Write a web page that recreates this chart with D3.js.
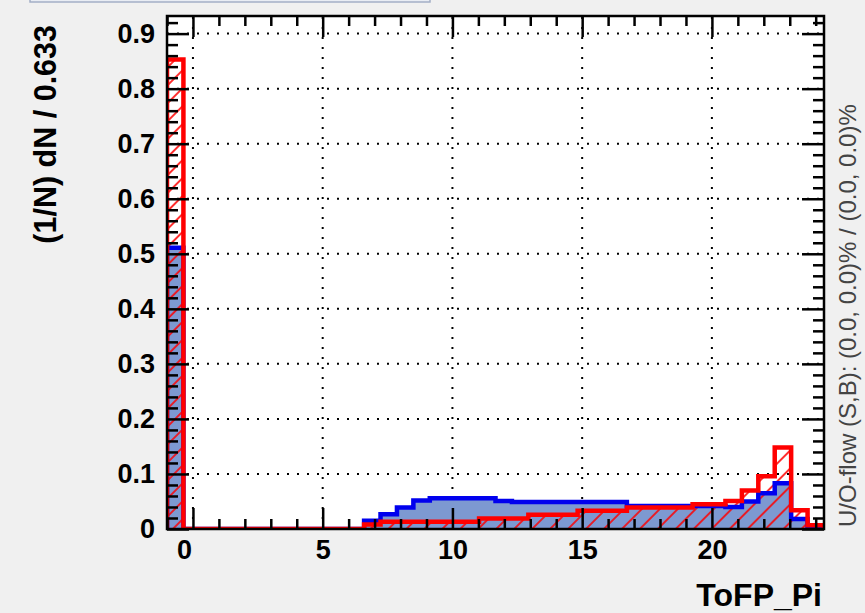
<!DOCTYPE html>
<html><head><meta charset="utf-8">
<script src="https://cdn.jsdelivr.net/npm/d3@7/dist/d3.min.js"></script>
<style>
body{margin:0;background:#f0f0f0;}
svg{display:block;}
text{font-family:"Liberation Sans",Arial,Helvetica,sans-serif;}
</style>
</head><body>
<svg id="c" width="865" height="613"></svg>
<script>
// ---- data ----
const binWidth = 0.633;
const xMin = -1;
const nBins = 40;
// Signal (blue, filled)
const signal = [0.511,0,0,0,0,0,0,0,0,0,0,0,0.015,0.027,0.039,0.052,0.056,0.056,0.056,0.056,
                0.051,0.049,0.049,0.049,0.049,0.049,0.049,0.049,0.042,0.042,0.042,0.042,0.042,0.042,0.040,0.050,0.065,0.083,0.018,0.004];
// Background (red, hatched)
const background = [0.853,0,0,0,0,0,0,0,0,0,0,0,0.008,0.013,0.013,0.013,0.013,0.013,0.013,0.019,
                    0.019,0.019,0.026,0.026,0.026,0.033,0.033,0.033,0.039,0.039,0.039,0.039,0.045,0.045,0.051,0.070,0.096,0.148,0.034,0.007];
const xMajorTicks = [0,5,10,15,20];
const xTickLabels = ["0","5","10","15","20"];
const xMinorTicks = [-1,1,2,3,4,6,7,8,9,11,12,13,14,16,17,18,19,21,22,23,24];
const yMajorTicks = [0,0.1,0.2,0.3,0.4,0.5,0.6,0.7,0.8,0.9];
const yTickLabels = ["0","0.1","0.2","0.3","0.4","0.5","0.6","0.7","0.8","0.9"];
const yMinorTicks = [0.02,0.04,0.06,0.08,0.12,0.14,0.16,0.18,0.22,0.24,0.26,0.28,0.32,0.34,0.36,0.38,
                     0.42,0.44,0.46,0.48,0.52,0.54,0.56,0.58,0.62,0.64,0.66,0.68,0.72,0.74,0.76,0.78,
                     0.82,0.84,0.86,0.88,0.92];
const yTitle = "(1/N) dN / 0.633";
const xTitle = "ToFP_Pi";
const sideText = "U/O-flow (S,B): (0.0, 0.0)% / (0.0, 0.0)%";

// ---- layout ----
const W = 865, H = 613;
const L = 167, R = 824, T = 16, B = 529;
const svg = d3.select("#c");
const x = d3.scaleLinear().domain([xMin, xMin + nBins*binWidth]).range([L, R]);
const y = d3.scaleLinear().domain([0, 0.932]).range([B, T]);

// partial header box at top
svg.append("rect").attr("x",30).attr("y",-6).attr("width",400).attr("height",8)
  .attr("fill","#e9edf4").attr("stroke","#a3aec6").attr("stroke-width",1.5);

// plot area
svg.append("rect").attr("x",L).attr("y",T).attr("width",R-L).attr("height",B-T).attr("fill","#fff");

const defs = svg.append("defs");
defs.append("clipPath").attr("id","clip").append("rect")
  .attr("x",L).attr("y",T).attr("width",R-L).attr("height",B-T);
const pat = defs.append("pattern").attr("id","hatch").attr("patternUnits","userSpaceOnUse")
  .attr("width",12.7).attr("height",12.7).attr("patternTransform","rotate(45)");
pat.append("line").attr("x1",1).attr("y1",0).attr("x2",1).attr("y2",12.7)
  .attr("stroke","#ff0000").attr("stroke-width",1.6);

// grid
const grid = svg.append("g").attr("stroke","#000").attr("stroke-width",2).attr("stroke-dasharray","2,8");
grid.selectAll("line.v").data(xMajorTicks).join("line").attr("class","v")
  .attr("x1",d=>x(d)).attr("x2",d=>x(d)).attr("y1",B).attr("y2",T);
grid.selectAll("line.h").data(yMajorTicks.filter(d=>d>0)).join("line").attr("class","h")
  .attr("x1",L).attr("x2",R).attr("y1",d=>y(d)).attr("y2",d=>y(d));

// histograms
function stepPoints(vals){
  const pts = [[xMin, 0]];
  vals.forEach((v,i)=>{ pts.push([xMin+i*binWidth, v]); pts.push([xMin+(i+1)*binWidth, v]); });
  pts.push([xMin+vals.length*binWidth, 0]);
  return pts;
}
const line = d3.line().x(d=>x(d[0])).y(d=>y(d[1]));
const area = d3.area().x(d=>x(d[0])).y0(y(0)).y1(d=>y(d[1]));
const hg = svg.append("g").attr("clip-path","url(#clip)");
const sp = stepPoints(signal), bp = stepPoints(background);
hg.append("path").attr("d",area(sp)).attr("fill","#7d99d1");
hg.append("path").attr("d",area(bp)).attr("fill","url(#hatch)");
hg.append("path").attr("d",line(sp)).attr("fill","none").attr("stroke","#0000ee").attr("stroke-width",4.5);
hg.append("path").attr("d",line(bp)).attr("fill","none").attr("stroke","#ff0000").attr("stroke-width",4.5);

// axes ticks (inside)
function ticksOnly(axis, tv, size){ return axis.tickValues(tv).tickSize(size).tickFormat(""); }
const tickStyle = g => { g.select(".domain").remove(); g.selectAll("line").attr("stroke","#000").attr("stroke-width",2.5); };
svg.append("g").attr("transform",`translate(0,${B})`).call(ticksOnly(d3.axisBottom(x),xMajorTicks,-21)).call(tickStyle);
svg.append("g").attr("transform",`translate(0,${B})`).call(ticksOnly(d3.axisBottom(x),xMinorTicks,-10)).call(tickStyle);
svg.append("g").attr("transform",`translate(0,${T})`).call(ticksOnly(d3.axisTop(x),xMajorTicks,-21)).call(tickStyle);
svg.append("g").attr("transform",`translate(0,${T})`).call(ticksOnly(d3.axisTop(x),xMinorTicks,-10)).call(tickStyle);
svg.append("g").attr("transform",`translate(${L},0)`).call(ticksOnly(d3.axisLeft(y),yMajorTicks,-22)).call(tickStyle);
svg.append("g").attr("transform",`translate(${L},0)`).call(ticksOnly(d3.axisLeft(y),yMinorTicks,-11)).call(tickStyle);
svg.append("g").attr("transform",`translate(${R},0)`).call(ticksOnly(d3.axisRight(y),yMajorTicks,-22)).call(tickStyle);
svg.append("g").attr("transform",`translate(${R},0)`).call(ticksOnly(d3.axisRight(y),yMinorTicks,-11)).call(tickStyle);

// frame
svg.append("rect").attr("x",L).attr("y",T).attr("width",R-L).attr("height",B-T)
  .attr("fill","none").attr("stroke","#000").attr("stroke-width",2.5);

// labels
const yl = d3.axisLeft(y).tickValues(yMajorTicks).tickSize(0).tickPadding(12)
  .tickFormat((d,i)=>yTickLabels[i]);
svg.append("g").attr("transform",`translate(${L},0)`).call(yl)
  .call(g=>{g.select(".domain").remove(); g.selectAll("text").attr("font-size",27).attr("font-weight","bold")
    .attr("font-family","'Liberation Sans',Arial,sans-serif").attr("fill","#000");});
const xl = d3.axisBottom(x).tickValues(xMajorTicks).tickSize(0).tickPadding(11)
  .tickFormat((d,i)=>xTickLabels[i]);
svg.append("g").attr("transform",`translate(0,${B})`).call(xl)
  .call(g=>{g.select(".domain").remove(); g.selectAll("text").attr("font-size",27).attr("font-weight","bold")
    .attr("font-family","'Liberation Sans',Arial,sans-serif").attr("fill","#000")
    .attr("dx",d=>d===0?-9:0);});

svg.append("text").attr("transform","translate(56,25) rotate(-90)").attr("text-anchor","end")
  .attr("font-size",30.5).attr("font-weight","bold").attr("fill","#000").text(yTitle);
svg.append("text").attr("x",822).attr("y",606).attr("text-anchor","end")
  .attr("font-size",32).attr("font-weight","bold").attr("fill","#000").text(xTitle);
svg.append("text").attr("transform","translate(856,527) rotate(-90)").attr("text-anchor","start")
  .attr("font-size",24).attr("fill","#444").text(sideText);
</script>
</body></html>
